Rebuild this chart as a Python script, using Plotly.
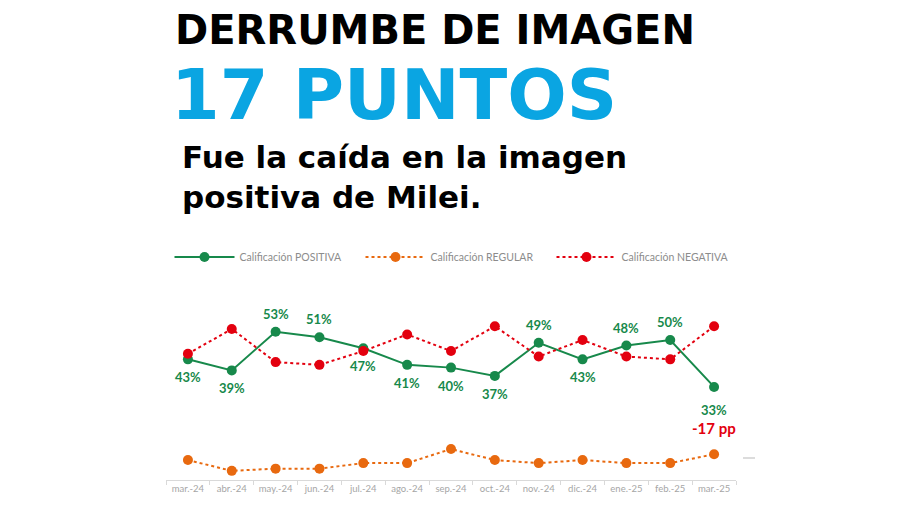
import plotly.graph_objects as go

months = ["mar.-24", "abr.-24", "may.-24", "jun.-24", "jul.-24", "ago.-24", "sep.-24",
          "oct.-24", "nov.-24", "dic.-24", "ene.-25", "feb.-25", "mar.-25"]
positiva = [43, 39, 53, 51, 47, 41, 40, 37, 49, 43, 48, 50, 33]
regular = [6.5, 2.6, 3.4, 3.4, 5.4, 5.4, 10.5, 6.5, 5.4, 6.5, 5.4, 5.4, 8.6]
negativa = [45, 54, 42, 41, 46, 52, 46, 55, 44, 50, 44, 43, 55]
label_side = ["below", "below", "above", "above", "below", "below", "below",
              "below", "above", "below", "above", "above", "below"]

GREEN = "#17894B"
ORANGE = "#E8690F"
RED = "#E3000F"
BLUE = "#0AA5E2"

OFF = 8  # default page body margin
W, H = 892, 498
L, R, T, B = 158, 164, 292, 26
PH = H - T - B
PW = W - L - R


def px(x):
    return (x - OFF - L) / PW


def py(y):
    return (H - B - (y - OFF)) / PH


fig = go.Figure()
fig.add_trace(go.Scatter(
    x=months, y=positiva, name="Calificación POSITIVA", mode="lines+markers",
    line=dict(color=GREEN, width=2), marker=dict(color=GREEN, size=10)))
fig.add_trace(go.Scatter(
    x=months, y=regular, name="Calificación REGULAR", mode="lines+markers",
    line=dict(color=ORANGE, width=2, dash="dot"), marker=dict(color=ORANGE, size=10)))
fig.add_trace(go.Scatter(
    x=months, y=negativa, name="Calificación NEGATIVA", mode="lines+markers",
    line=dict(color=RED, width=2, dash="dot"), marker=dict(color=RED, size=10)))

annotations = []
for m, v, side in zip(months, positiva, label_side):
    shift = 18 if side == "above" else -18
    if m == months[-1]:
        shift = -23
    annotations.append(dict(x=m, y=v, text=f"{v}%", showarrow=False, yshift=shift,
                            font=dict(family="Lato", size=13, color=GREEN, weight="bold")))
drop = positiva[-1] - positiva[-2]
annotations.append(dict(x=months[-1], y=positiva[-1], text=f"{drop} pp",
                        showarrow=False, yshift=-41,
                        font=dict(family="Lato", size=15, color=RED, weight="bold")))

FONT_HEAD = "DejaVu Sans"
annotations += [
    dict(xref="paper", yref="paper", x=px(173), y=py(30), xanchor="left", yanchor="middle",
         text="DERRUMBE DE IMAGEN", showarrow=False,
         font=dict(family=FONT_HEAD, size=40, color="#000000", weight="bold")),
    dict(xref="paper", yref="paper", x=px(169), y=py(95), xanchor="left", yanchor="middle",
         text="17 PUNTOS", showarrow=False,
         font=dict(family=FONT_HEAD, size=70, color=BLUE, weight="bold")),
    dict(xref="paper", yref="paper", x=px(180), y=py(177), xanchor="left", yanchor="middle",
         text="Fue la caída en la imagen<br>positiva de Milei.", showarrow=False, align="left",
         font=dict(family=FONT_HEAD, size=31, color="#000000", weight="bold")),
]

fig.update_layout(
    width=W, height=H,
    margin=dict(l=L, r=R, t=T, b=B, pad=0, autoexpand=False),
    paper_bgcolor="white", plot_bgcolor="white",
    showlegend=True,
    legend=dict(orientation="h", xref="container", yref="container",
                x=(456 - OFF) / W, xanchor="center", y=1 - (257 - OFF) / H, yanchor="middle",
                font=dict(family="Lato", size=10.5, color="#8C8C8C"),
                itemwidth=60, entrywidth=116, tracegroupgap=0, bgcolor="rgba(0,0,0,0)"),
    annotations=annotations,
    shapes=[dict(type="line", xref="paper", yref="paper", x0=px(743), x1=px(755),
                 y0=py(458), y1=py(458), line=dict(color="#D0D0D0", width=1.5))],
    xaxis=dict(showgrid=False, showline=True, linecolor="#D9D9D9", linewidth=1,
               ticks="outside", tickson="boundaries", ticklen=4, tickcolor="#D9D9D9",
               tickfont=dict(family="Lato", size=9.5, color="#A6A6A6"),
               range=[-0.5, 12.5], fixedrange=True),
    yaxis=dict(visible=False, range=[-0.72, 64.5], showgrid=False, zeroline=False),
)

fig.write_html("out.html")
